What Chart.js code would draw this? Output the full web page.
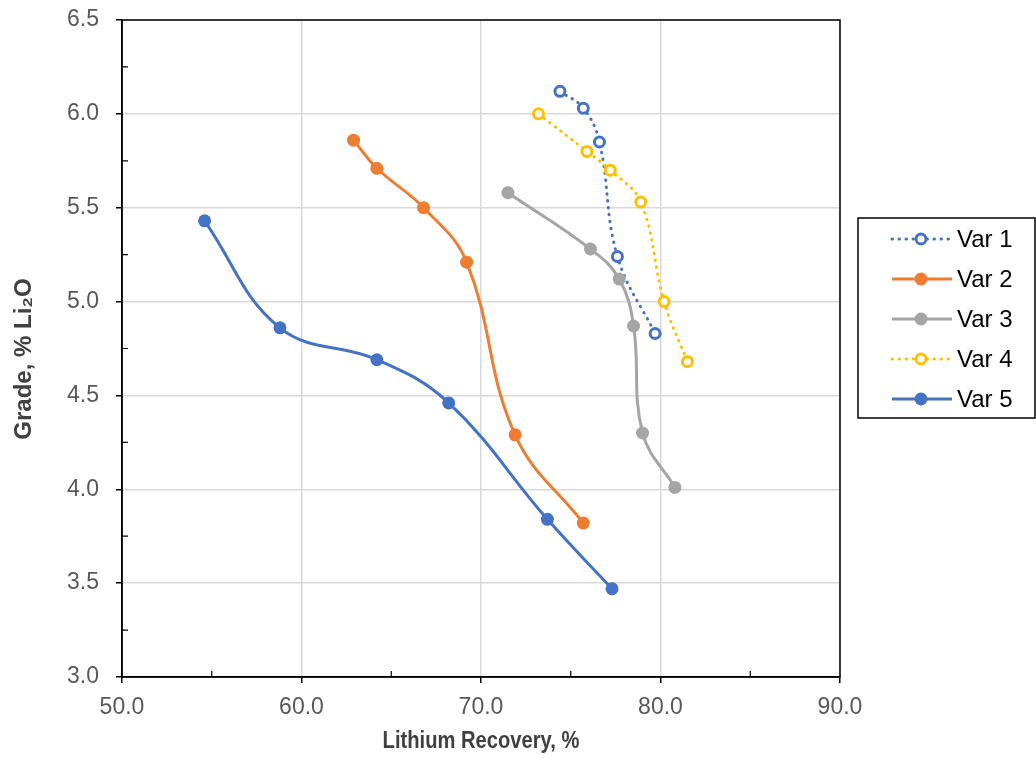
<!DOCTYPE html>
<html>
<head>
<meta charset="utf-8">
<script src="https://cdn.jsdelivr.net/npm/chart.js@4"></script>
<style>
    html, body { margin: 0; padding: 0; background: #ffffff; }
    #wrap { width: 1036px; height: 758px; position: relative; }
</style>
</head>
<body>
<div id="wrap"><canvas id="chart" width="1036" height="758"></canvas></div>
<script>
// Series data (x = lithium recovery %, y = grade % Li2O)
const seriesNames = ['Var 1', 'Var 2', 'Var 3', 'Var 4', 'Var 5'];

const var1X = [74.4, 75.7, 76.6, 77.6, 79.7];
const var1Y = [6.12, 6.03, 5.85, 5.24, 4.83];

const var2X = [62.9, 64.2, 66.8, 69.2, 71.9, 75.7];
const var2Y = [5.86, 5.71, 5.50, 5.21, 4.29, 3.82];

const var3X = [71.5, 76.1, 77.7, 78.5, 79.0, 80.8];
const var3Y = [5.58, 5.28, 5.12, 4.87, 4.30, 4.01];

const var4X = [73.2, 75.9, 77.2, 78.9, 80.2, 81.5];
const var4Y = [6.00, 5.80, 5.70, 5.53, 5.00, 4.68];

const var5X = [54.6, 58.8, 64.2, 68.2, 73.7, 77.3];
const var5Y = [5.43, 4.86, 4.69, 4.46, 3.84, 3.47];

const xTitle = 'Lithium Recovery, %';
const yTitle = 'Grade, % Li₂O';

const xMin = 50, xMax = 90, xMajor = 10, xMinor = 5;
const yMin = 3.0, yMax = 6.5, yMajor = 0.5, yMinor = 0.25;

const colors = ['#4472C4', '#ED7D31', '#A5A5A5', '#FFC000', '#4472C4'];
const dotted = [true, false, false, true, false];

const textColor = '#595959';
const titleColor = '#404040';
const fontFamily = '"Liberation Sans", Arial, sans-serif';

function toPoints(xs, ys) {
    return xs.map((x, i) => ({ x: x, y: ys[i] }));
}

const allX = [var1X, var2X, var3X, var4X, var5X];
const allY = [var1Y, var2Y, var3Y, var4Y, var5Y];

const datasets = seriesNames.map((name, i) => ({
    label: name,
    data: toPoints(allX[i], allY[i]),
    showLine: true,
    tension: 0.4,
    borderColor: colors[i],
    borderWidth: 3,
    borderDash: dotted[i] ? [0.5, 6.5] : [],
    borderCapStyle: dotted[i] ? 'round' : 'butt',
    pointRadius: dotted[i] ? 5 : 6.5,
    pointBorderWidth: dotted[i] ? 3 : 0,
    pointBorderColor: colors[i],
    pointBackgroundColor: dotted[i] ? '#ffffff' : colors[i],
    order: 5 - i
}));

function isMajor(v, step) {
    const r = v / step;
    return Math.abs(r - Math.round(r)) < 1e-6;
}

// frame, minor ticks (inside), axis titles and boxed legend
const extrasPlugin = {
    id: 'extras',
    afterDraw(chart) {
        const ctx = chart.ctx;
        const a = chart.chartArea;
        const xs = chart.scales.x, ys = chart.scales.y;
        ctx.save();
        ctx.strokeStyle = '#000000';
        ctx.lineWidth = 1.5;
        ctx.strokeRect(a.left, a.top, a.right - a.left, a.bottom - a.top);

        ctx.lineWidth = 1.2;
        ctx.beginPath();
        for (let v = xMin + xMinor; v < xMax; v += xMinor) {
            if (isMajor(v, xMajor)) continue;
            const px = xs.getPixelForValue(v);
            ctx.moveTo(px, a.bottom);
            ctx.lineTo(px, a.bottom - 6);
        }
        for (let v = yMin + yMinor; v < yMax; v += yMinor) {
            if (isMajor(v, yMajor)) continue;
            const py = ys.getPixelForValue(v);
            ctx.moveTo(a.left, py);
            ctx.lineTo(a.left + 6, py);
        }
        ctx.stroke();

        // axis titles
        ctx.fillStyle = titleColor;
        ctx.font = 'bold 24px ' + fontFamily;
        ctx.textAlign = 'center';
        ctx.textBaseline = 'alphabetic';
        ctx.save();
        ctx.translate((a.left + a.right) / 2, 748);
        ctx.scale(0.84, 1);
        ctx.fillText(xTitle, 0, 0);
        ctx.restore();
        ctx.save();
        ctx.translate(31, 359);
        ctx.rotate(-Math.PI / 2);
        ctx.fillText(yTitle, 0, 0);
        ctx.restore();

        // legend
        const boxL = a.right + 18, boxT = 218;
        const boxW = chart.width - boxL - 1, rowH = 40;
        const boxH = rowH * seriesNames.length;
        ctx.lineWidth = 1.5;
        ctx.strokeStyle = '#000000';
        ctx.strokeRect(boxL, boxT, boxW, boxH);
        ctx.font = '24px ' + fontFamily;
        ctx.textAlign = 'left';
        ctx.textBaseline = 'middle';
        ctx.fillStyle = '#000000';
        datasets.forEach((ds, i) => {
            const cy = boxT + 21 + i * rowH;
            const x0 = boxL + 34, x1 = boxL + 94, cx = boxL + 63;
            ctx.save();
            ctx.strokeStyle = ds.borderColor;
            ctx.lineWidth = ds.borderWidth;
            ctx.setLineDash(ds.borderDash);
            ctx.lineCap = ds.borderCapStyle;
            ctx.beginPath();
            ctx.moveTo(x0, cy);
            ctx.lineTo(x1, cy);
            ctx.stroke();
            ctx.setLineDash([]);
            ctx.beginPath();
            ctx.arc(cx, cy, ds.pointRadius, 0, Math.PI * 2);
            ctx.fillStyle = ds.pointBackgroundColor;
            ctx.fill();
            if (ds.pointBorderWidth) {
                ctx.lineWidth = ds.pointBorderWidth;
                ctx.strokeStyle = ds.pointBorderColor;
                ctx.stroke();
            }
            ctx.restore();
            ctx.fillText(ds.label, boxL + 99, cy + 1);
        });
        ctx.restore();
    }
};

const ctx = document.getElementById('chart').getContext('2d');
const chart = new Chart(ctx, {
    type: 'scatter',
    data: { datasets: datasets },
    plugins: [extrasPlugin],
    options: {
        responsive: false,
        animation: false,
        layout: { padding: { left: 0, right: 196, top: 20, bottom: 0 } },
        plugins: {
            legend: { display: false },
            tooltip: { enabled: false }
        },
        scales: {
            x: {
                type: 'linear',
                min: xMin,
                max: xMax,
                afterFit: s => { s.height = 81; s.paddingLeft = 0; s.paddingRight = 0; },
                border: { color: '#000000', width: 1.5 },
                grid: {
                    color: c => (c.tick && isMajor(c.tick.value, xMajor) ? '#d9d9d9' : 'rgba(0,0,0,0)'),
                    lineWidth: 1.5,
                    tickColor: c => (c.tick && isMajor(c.tick.value, xMajor) ? '#000000' : 'rgba(0,0,0,0)'),
                    tickLength: 6
                },
                ticks: {
                    stepSize: xMinor,
                    autoSkip: false,
                    maxRotation: 0,
                    padding: 11,
                    color: textColor,
                    font: { family: fontFamily, size: 23 },
                    callback: v => (isMajor(v, xMajor) ? v.toFixed(1) : '')
                }
            },
            y: {
                type: 'linear',
                min: yMin,
                max: yMax,
                afterFit: s => { s.width = 122; s.paddingTop = 0; s.paddingBottom = 0; },
                border: { color: '#000000', width: 1.5 },
                grid: {
                    color: c => (c.tick && isMajor(c.tick.value, yMajor) ? '#d9d9d9' : 'rgba(0,0,0,0)'),
                    lineWidth: 1.5,
                    tickColor: c => (c.tick && isMajor(c.tick.value, yMajor) ? '#000000' : 'rgba(0,0,0,0)'),
                    tickLength: 6
                },
                ticks: {
                    stepSize: yMinor,
                    autoSkip: false,
                    padding: 17,
                    color: textColor,
                    font: { family: fontFamily, size: 23 },
                    callback: v => (isMajor(v, yMajor) ? v.toFixed(1) : '')
                }
            }
        }
    }
});
</script>
</body>
</html>
